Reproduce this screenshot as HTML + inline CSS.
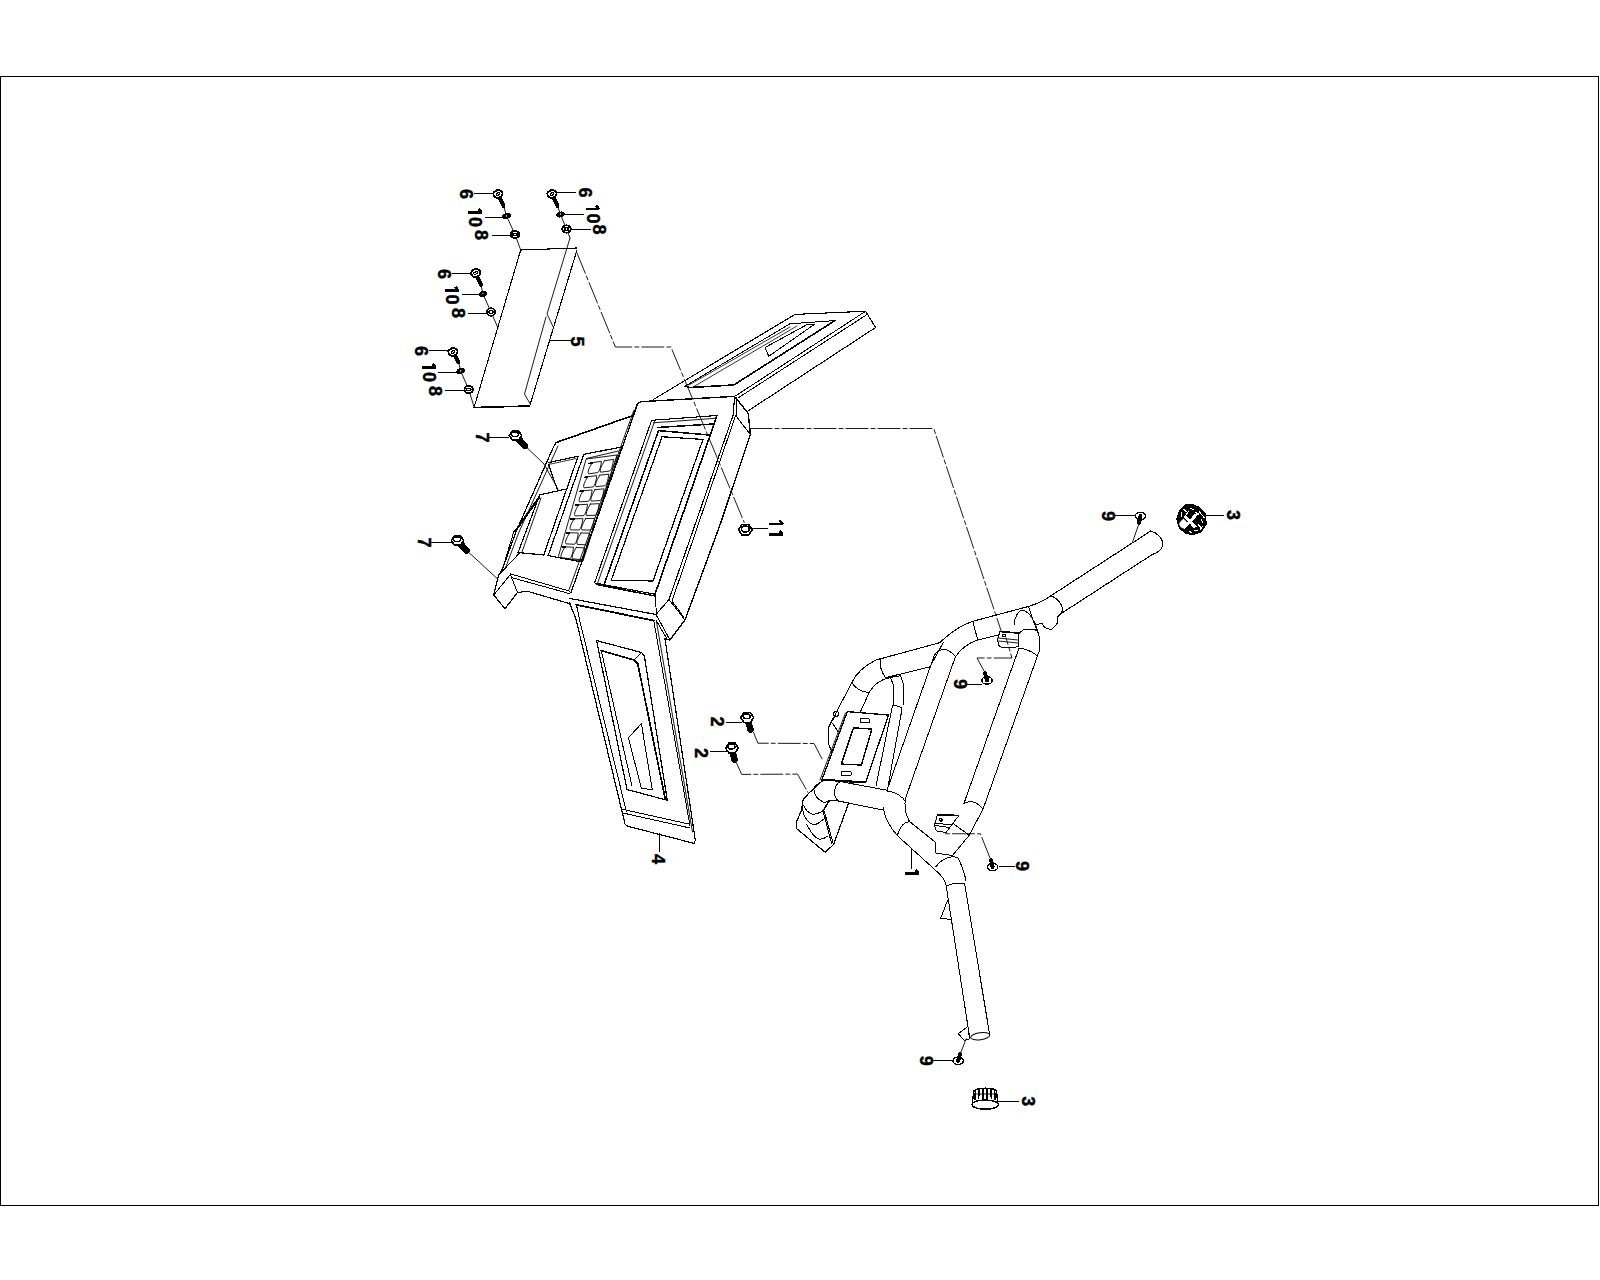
<!DOCTYPE html>
<html><head><meta charset="utf-8"><style>
html,body{margin:0;padding:0;background:#fff;}
svg{display:block;}
text{font-family:"Liberation Sans",sans-serif;font-weight:bold;fill:#000;stroke:#000;stroke-width:0.45px;-webkit-font-smoothing:none;text-anchor:middle;dominant-baseline:central;}
</style></head><body>
<svg width="1600" height="1280" viewBox="0 0 1600 1280">
<g fill="none" stroke="#000" stroke-linecap="round" stroke-linejoin="round" shape-rendering="crispEdges">
<rect x="0.5" y="76.5" width="1598" height="1129" stroke-width="1.2"/>
<path d="M473.5,193 L494.5,193" stroke-width="1.0" />
<path d="M484.7,217 L505,217" stroke-width="1.0" />
<path d="M491.5,235 L511,235" stroke-width="1.0" />
<path d="M503.5,205 L506.5,216 L515,234.5 L520.7,250" stroke-width="0.9" />
<path d="M499.65,197.6 L503.5,206" stroke-width="4.0" />
<ellipse cx="498" cy="194" rx="4.6" ry="3.8" transform="rotate(-15 498 194)" stroke-width="2.0" fill="#fff"/>
<ellipse cx="498" cy="194" rx="2.0" ry="1.1" transform="rotate(-15 498 194)" stroke-width="1.2" fill="none"/>
<ellipse cx="506.5" cy="216" rx="3.8" ry="2.3" transform="rotate(-15 506.5 216)" stroke-width="1.2" fill="#000"/>
<circle cx="506.5" cy="215.7" r="0.9" stroke-width="0.4" fill="#fff"/>
<ellipse cx="515" cy="234.5" rx="4.2" ry="3.7" transform="rotate(0 515 234.5)" stroke-width="1.9" fill="#fff"/>
<ellipse cx="515" cy="234.5" rx="2.2" ry="1.3" transform="rotate(0 515 234.5)" stroke-width="1.4" fill="none"/>
<path transform="translate(475,212.5) rotate(90)" d="M0,-6.8 L0,6.8 M0.3,-6.8 L-3.6,-3.5999999999999996" stroke-width="2.5" stroke-linecap="butt" stroke-linejoin="miter"/>
<path d="M553,192.5 L575.5,192.5" stroke-width="1.0" />
<path d="M562,214.5 L583.7,214.5" stroke-width="1.0" />
<path d="M570,229 L590.5,229" stroke-width="1.0" />
<path d="M557.5,206 L560.5,214.5 L566.5,229 L570,238" stroke-width="0.9" />
<path d="M553.65,197.6 L557.5,206" stroke-width="4.0" />
<ellipse cx="552" cy="194" rx="4.6" ry="3.8" transform="rotate(-15 552 194)" stroke-width="2.0" fill="#fff"/>
<ellipse cx="552" cy="194" rx="2.0" ry="1.1" transform="rotate(-15 552 194)" stroke-width="1.2" fill="none"/>
<ellipse cx="560.5" cy="214.5" rx="3.8" ry="2.3" transform="rotate(-15 560.5 214.5)" stroke-width="1.2" fill="#000"/>
<circle cx="560.5" cy="214.2" r="0.9" stroke-width="0.4" fill="#fff"/>
<ellipse cx="566.5" cy="229" rx="4.2" ry="3.7" transform="rotate(0 566.5 229)" stroke-width="1.9" fill="#fff"/>
<ellipse cx="566.5" cy="229" rx="2.2" ry="1.3" transform="rotate(0 566.5 229)" stroke-width="1.4" fill="none"/>
<path transform="translate(592.5,209) rotate(90)" d="M0,-6.8 L0,6.8 M0.3,-6.8 L-3.6,-3.5999999999999996" stroke-width="2.5" stroke-linecap="butt" stroke-linejoin="miter"/>
<path d="M451.7,273 L472,273" stroke-width="1.0" />
<path d="M461.5,294 L481,294" stroke-width="1.0" />
<path d="M468,313 L487,313" stroke-width="1.0" />
<path d="M481,285 L483,294 L491,312 L498,328" stroke-width="0.9" />
<path d="M477.28999999999996,276.6 L481,285" stroke-width="4.0" />
<ellipse cx="475.7" cy="273" rx="4.6" ry="3.8" transform="rotate(-15 475.7 273)" stroke-width="2.0" fill="#fff"/>
<ellipse cx="475.7" cy="273" rx="2.0" ry="1.1" transform="rotate(-15 475.7 273)" stroke-width="1.2" fill="none"/>
<ellipse cx="483" cy="294" rx="3.8" ry="2.3" transform="rotate(-15 483 294)" stroke-width="1.2" fill="#000"/>
<circle cx="483" cy="293.7" r="0.9" stroke-width="0.4" fill="#fff"/>
<ellipse cx="491" cy="312" rx="4.2" ry="3.7" transform="rotate(0 491 312)" stroke-width="1.9" fill="#fff"/>
<ellipse cx="491" cy="312" rx="2.2" ry="1.3" transform="rotate(0 491 312)" stroke-width="1.4" fill="none"/>
<path transform="translate(451.7,290.3) rotate(90)" d="M0,-6.8 L0,6.8 M0.3,-6.8 L-3.6,-3.5999999999999996" stroke-width="2.5" stroke-linecap="butt" stroke-linejoin="miter"/>
<path d="M429,350 L450,350" stroke-width="1.0" />
<path d="M438,372 L457.7,372" stroke-width="1.0" />
<path d="M445,390 L464.5,390" stroke-width="1.0" />
<path d="M458.5,361.7 L460.7,371 L468.7,389.5 L474,406.7" stroke-width="0.9" />
<path d="M454.65,355.0 L458.5,362" stroke-width="4.0" />
<ellipse cx="453" cy="352" rx="4.6" ry="3.8" transform="rotate(-15 453 352)" stroke-width="2.0" fill="#fff"/>
<ellipse cx="453" cy="352" rx="2.0" ry="1.1" transform="rotate(-15 453 352)" stroke-width="1.2" fill="none"/>
<ellipse cx="460.7" cy="371" rx="3.8" ry="2.3" transform="rotate(-15 460.7 371)" stroke-width="1.2" fill="#000"/>
<circle cx="460.7" cy="370.7" r="0.9" stroke-width="0.4" fill="#fff"/>
<ellipse cx="468.7" cy="389.5" rx="4.2" ry="3.7" transform="rotate(0 468.7 389.5)" stroke-width="1.9" fill="#fff"/>
<ellipse cx="468.7" cy="389.5" rx="2.2" ry="1.3" transform="rotate(0 468.7 389.5)" stroke-width="1.4" fill="none"/>
<path transform="translate(429,367.5) rotate(90)" d="M0,-6.8 L0,6.8 M0.3,-6.8 L-3.6,-3.5999999999999996" stroke-width="2.5" stroke-linecap="butt" stroke-linejoin="miter"/>
<path d="M520.7,250 L576.5,248" stroke-width="1.1" />
<path d="M520.7,250 L474.2,407" stroke-width="1.1" />
<path d="M474.2,407.5 L529.7,406" stroke-width="1.6" />
<path d="M577,250 L529.7,406" stroke-width="1.1" />
<path d="M570,238 L547,314 L553,326.5" stroke-width="0.9" />
<path d="M546,317 L524.5,394 L530.5,404.5" stroke-width="0.9" />
<path d="M550.7,340.7 L571,340.7" stroke-width="1.0" />
<path d="M577,253 L615.4,347 L670.9,347 L744.25,522.5" stroke-width="0.9" stroke-dasharray="22 3 4 3"/>
<path d="M653.75,399.25 L795,314.4 L865.6,311.25 L875.6,327.5 L747.5,411.25" stroke-width="1.1" />
<path d="M865.6,311.25 L735,396.25" stroke-width="1.0" />
<path d="M866.6,314.8 L738.75,397.5" stroke-width="1.0" />
<path d="M685,386.25 L790,323.75 L835,320.6" stroke-width="1.0" />
<path d="M835,320.6 L733.75,385 L690,387.5 L685,386.25" stroke-width="1.6" />
<path d="M689,385 L790,327" stroke-width="0.8" />
<path d="M694,386.5 L797,326" stroke-width="0.8" />
<path d="M765,347.5 L806.25,325 L814.4,324.4 L768.75,356.25 Z" stroke-width="1.0" />
<path d="M633,415.5 L637.3,404.3 L640.5,401.7 L734.5,396.4 L748.3,413.4 L750.4,434.6 L719.6,526 L685,620 L670,640 L665,639" stroke-width="1.4" />
<path d="M734.5,396.4 L733.4,414.4 L669,599.5 L656,614.5" stroke-width="1.1" />
<path d="M735.6,415.5 L672,601" stroke-width="1.0" />
<path d="M736.3,397.5 L736.8,416" stroke-width="1.0" />
<path d="M669,599.5 L685,620" stroke-width="1.0" />
<path d="M672,601 L684,617.5" stroke-width="1.0" />
<path d="M656,614.5 L670,640" stroke-width="1.0" />
<path d="M656,620 L667,639" stroke-width="1.0" />
<path d="M735.6,415.5 L750.4,434.6" stroke-width="1.0" />
<path d="M637.3,404.9 L571,592.5" stroke-width="1.2" />
<path d="M634,410 L569,590" stroke-width="0.9" />
<path d="M556.25,442.5 L633,415.5" stroke-width="1.6" />
<path d="M556.25,442.5 L553.75,446.25 L516.25,531.25 L502.5,568.75 L498.75,575 L493.75,595 L505,608.75 L517.5,592.5 L527.5,591.25 L570,603.75" stroke-width="1.2" />
<path d="M558,446 L519,532 L505,569" stroke-width="0.9" />
<path d="M498.75,575 L520,552.5" stroke-width="1.0" />
<path d="M493.75,595 L510,575" stroke-width="1.0" />
<path d="M510,573.75 L570,591.25" stroke-width="1.0" />
<path d="M511.25,577.5 L570,593.75" stroke-width="1.0" />
<path d="M510,573.75 L517.5,592.5" stroke-width="1.0" />
<path d="M515.2,531.3 L539,497.5" stroke-width="2.2" stroke-dasharray="1.5 1"/>
<path d="M514,531 L502.5,569.2" stroke-width="1.0" />
<path d="M548.75,462.5 L578.1,456.25 L543.75,555 L518.1,552.5 L539.4,495.6" stroke-width="1.2" />
<path d="M551,464 L576,458.5" stroke-width="0.8" />
<path d="M548.75,465 L557.5,490" stroke-width="1.2" />
<path d="M539.4,495 L567.5,488.75" stroke-width="1.2" />
<path d="M541,498 L522,552" stroke-width="0.9" />
<path d="M583.75,454.4 L621.9,446.9 L581.25,561.9 L548.1,555.6 Z" stroke-width="1.2" />
<path d="M586.5,458.5 L618.5,451" stroke-width="0.9" />
<path d="M586.5,459 L617,455 L583,561 L558.5,557.5 Z" stroke-width="0.9" />
<path d="M592.18,462.75 L601.44,461.27 Q600.28,470.59 597.78,472.59 L588.61,473.81 Q586.61,471.81 592.18,462.75 Z" stroke-width="0.9" />
<path d="M604.36,460.8 L613.62,459.32 Q612.34,468.99 609.84,470.99 L600.67,472.21 Q598.67,470.21 604.36,460.8 Z" stroke-width="0.9" />
<path d="M588.95,463.45 L592.12,462.94" stroke-width="1.6" />
<path d="M587.66,476.76 L596.8,475.6 Q595.64,484.93 593.14,486.93 L584.08,487.83 Q582.08,485.83 587.66,476.76 Z" stroke-width="0.9" />
<path d="M599.69,475.24 L608.83,474.09 Q607.55,483.75 605.05,485.75 L596.0,486.65 Q594.0,484.65 599.69,475.24 Z" stroke-width="0.9" />
<path d="M584.47,477.35 L587.59,476.95" stroke-width="1.6" />
<path d="M583.13,490.77 L592.16,489.94 Q591.0,499.27 588.5,501.27 L579.56,501.84 Q577.56,499.84 583.13,490.77 Z" stroke-width="0.9" />
<path d="M595.02,489.68 L604.04,488.85 Q602.76,498.52 600.26,500.52 L591.32,501.09 Q589.32,499.09 595.02,489.68 Z" stroke-width="0.9" />
<path d="M579.98,491.25 L583.07,490.96" stroke-width="1.6" />
<path d="M578.61,504.78 L587.53,504.28 Q586.36,513.6 583.86,515.6 L575.04,515.85 Q573.04,513.85 578.61,504.78 Z" stroke-width="0.9" />
<path d="M590.34,504.12 L599.26,503.62 Q597.97,513.28 595.47,515.28 L586.65,515.53 Q584.65,513.53 590.34,504.12 Z" stroke-width="0.9" />
<path d="M575.5,505.15 L578.55,504.98" stroke-width="1.6" />
<path d="M574.09,518.79 L582.89,518.62 Q581.72,527.94 579.22,529.94 L570.51,529.86 Q568.51,527.86 574.09,518.79 Z" stroke-width="0.9" />
<path d="M585.67,518.56 L594.47,518.38 Q593.19,528.05 590.69,530.05 L581.97,529.97 Q579.97,527.97 585.67,518.56 Z" stroke-width="0.9" />
<path d="M571.01,519.05 L574.02,518.99" stroke-width="1.6" />
<path d="M569.56,532.8 L578.25,532.95 Q577.09,542.28 574.59,544.28 L565.99,543.87 Q563.99,541.87 569.56,532.8 Z" stroke-width="0.9" />
<path d="M580.99,533.0 L589.68,533.15 Q588.4,542.81 585.9,544.81 L577.3,544.41 Q575.3,542.41 580.99,533.0 Z" stroke-width="0.9" />
<path d="M566.53,532.95 L569.5,533.0" stroke-width="1.6" />
<path d="M565.04,546.81 L573.61,547.29 Q572.45,556.62 569.95,558.62 L561.46,557.88 Q559.46,555.88 565.04,546.81 Z" stroke-width="0.9" />
<path d="M576.32,547.44 L584.89,547.91 Q583.61,557.58 581.11,559.58 L572.63,558.85 Q570.63,556.85 576.32,547.44 Z" stroke-width="0.9" />
<path d="M562.04,546.85 L564.97,547.01" stroke-width="1.6" />
<path d="M655,594.25 L594.6,582.9 L651.6,420.3 L717,415.5" stroke-width="1.1" />
<path d="M717,415.5 L655,594.25" stroke-width="1.6" />
<path d="M654.5,421.5 L597.5,583.5" stroke-width="0.9" />
<path d="M653.5,422.8 L715.5,418.3" stroke-width="0.9" />
<path d="M657.5,427.5 L713.5,424" stroke-width="1.5" />
<path d="M709.25,435 L658.5,430.6 L604,585" stroke-width="1.5" />
<path d="M597,584.5 L655,596" stroke-width="1.5" />
<path d="M662,436.75 L703,439.4 L653,581 L611.25,580.25 Z" stroke-width="1.2" />
<path d="M655,594.25 L656.75,617" stroke-width="1.0" />
<path d="M570,598.5 L656,614.5" stroke-width="1.2" />
<path d="M515.4,435.5 L525,446" stroke-width="6.5" />
<path d="M521.6,435.5 L518.5,440.0 L512.3,440.0 L509.2,435.5 L512.3,431.0 L518.5,431.0 Z" stroke-width="1.6" fill="#fff"/>
<ellipse cx="514.9" cy="434.2" rx="3.6" ry="2.4" transform="rotate(0 514.9 434.2)" stroke-width="1.4" fill="none"/>
<path d="M526.9,447.6 L544,464 L558,489.25" stroke-width="0.9" />
<path d="M489.25,437.5 L508.9,437.5" stroke-width="1.0" />
<path d="M457.5,540.6 L466.5,550.5" stroke-width="6.5" />
<path d="M463.7,540.6 L460.6,545.1 L454.4,545.1 L451.3,540.6 L454.4,536.1 L460.6,536.1 Z" stroke-width="1.6" fill="#fff"/>
<ellipse cx="457.0" cy="539.3000000000001" rx="3.6" ry="2.4" transform="rotate(0 457.0 539.3000000000001)" stroke-width="1.4" fill="none"/>
<path d="M467.5,551.25 L498.1,579.4" stroke-width="0.9" />
<path d="M431.9,542.5 L451.25,542.5" stroke-width="1.0" />
<path d="M752.1,529.75 L748.7,534.95 L741.9,534.95 L738.5,529.75 L741.9,524.55 L748.7,524.55 Z" stroke-width="1.8" />
<ellipse cx="745.3" cy="529.0" rx="3.8" ry="3.2" transform="rotate(0 745.3 529.0)" stroke-width="1.6" fill="none"/>
<path d="M751.9,528.4 L767.8,528.4" stroke-width="1.0" />
<path transform="translate(776,524) rotate(90)" d="M0,-6.8 L0,6.8 M0.3,-6.8 L-3.6,-3.5999999999999996" stroke-width="2.5" stroke-linecap="butt" stroke-linejoin="miter"/>
<path transform="translate(776,534.5) rotate(90)" d="M0,-6.8 L0,6.8 M0.3,-6.8 L-3.6,-3.5999999999999996" stroke-width="2.5" stroke-linecap="butt" stroke-linejoin="miter"/>
<path d="M750,428.5 L933.75,428.5 L1001.5,632" stroke-width="0.9" stroke-dasharray="22 3 4 3"/>
<path d="M569.4,602.8 L575.9,618.75 L625,824 L627.4,826.2 L694.2,843.4 L695.3,840.2 L665,639" stroke-width="1.2" />
<path d="M576.5,605 L579.7,620.6 L626.5,812" stroke-width="1.0" />
<path d="M575.9,604.7 L653.75,620.6" stroke-width="1.8" />
<path d="M653.75,620.6 L690,826" stroke-width="1.0" />
<path d="M656.5,622 L692.5,832" stroke-width="0.9" />
<path d="M620.9,808.9 L688.8,824" stroke-width="1.0" />
<path d="M623,813 L690,828" stroke-width="1.0" />
<path d="M641.5,652.5 L596.6,640.6 L627,789.5 L667.3,800.3 L644.4,656.25 L641.5,652.5" stroke-width="1.2" />
<path d="M601.25,650.6 L632,786" stroke-width="1.0" />
<path d="M601.25,650.6 L634,660 L637.8,663.75 L665,798" stroke-width="1.7" />
<path d="M634,660 L641.5,652.5" stroke-width="1.0" />
<path d="M628.4,737.75 L641.4,723.7 L652.2,789.5 L641.4,788.4 Z" stroke-width="1.0" />
<path d="M659.7,833.7 L659.7,852" stroke-width="1.0" />
<path d="M747.2,717.5 L750.5,729.5" stroke-width="6.5" />
<path d="M753.6,717.5 L750.4,722.35 L744.0,722.35 L740.8,717.5 L744.0,712.65 L750.4,712.65 Z" stroke-width="1.6" fill="#fff"/>
<ellipse cx="746.7" cy="716.2" rx="3.6" ry="2.4" transform="rotate(0 746.7 716.2)" stroke-width="1.4" fill="none"/>
<path d="M753.5,732.4 L757.9,743.2 L814.1,743.5 L822,758.9" stroke-width="0.9" stroke-dasharray="22 3 4 3"/>
<path d="M725.5,722 L741.7,722" stroke-width="1.0" />
<path d="M731.9,748 L734.5,759.5" stroke-width="6.5" />
<path d="M738.3,748.0 L735.1,752.85 L728.7,752.85 L725.5,748.0 L728.7,743.15 L735.1,743.15 Z" stroke-width="1.6" fill="#fff"/>
<ellipse cx="731.4" cy="746.7" rx="3.6" ry="2.4" transform="rotate(0 731.4 746.7)" stroke-width="1.4" fill="none"/>
<path d="M736.3,762.6 L741.7,774.4 L797.5,774.1 L808,792.5" stroke-width="0.9" stroke-dasharray="22 3 4 3"/>
<path d="M710.4,751.8 L727.7,751.8" stroke-width="1.0" />
<path d="M851.75,682.75 C856,673 866,665 876,660 L939.6,642.75 C950,633 960,625 972.9,621.3 L1030,606 Q1042,602 1049,597 L1150.75,531" stroke-width="1.1" />
<path d="M1062,613 L1151.5,555" stroke-width="1.1" />
<path d="M1150.75,531 C1158,533 1163,539 1162.75,545 C1162,550 1157,553 1151.5,555" stroke-width="1.1" />
<path d="M1051.6,596 C1057,598 1062,604 1062.5,609 C1062.5,612 1060,615 1057.8,616.5 C1058.5,620 1058,625 1051.6,629.2 C1048,629.5 1044,628 1042.2,623.4" stroke-width="1.0" />
<path d="M1028.1,605.8 L1036.7,630" stroke-width="1.0" />
<path d="M972.9,621.3 L977.7,640.1" stroke-width="1.0" />
<path d="M955.4,656.75 C960,650 968,643 977.7,640.1 L1000,634.4" stroke-width="1.0" />
<path d="M1035.9,624.5 L1042.2,623.4" stroke-width="1.0" />
<path d="M1014,625.3 C1014.5,617 1018,611 1021.9,610.5 C1026,610 1030,613 1035.2,623.75 C1037,628 1039,634 1039.8,640 L1039.8,649.5 L1037.5,655.8" stroke-width="1.0" />
<path d="M1019.5,633.1 C1022,630.5 1024,629.2 1025.8,629.2 L1033.6,629.2 C1036,630 1038,632 1038.3,633.1" stroke-width="1.0" />
<path d="M1037.5,655.8 L983,809.25" stroke-width="1.0" />
<path d="M1018.75,648.75 L963.75,804" stroke-width="1.0" />
<path d="M1018.75,648.75 C1021,648 1028,648.5 1037.5,655.8" stroke-width="1.0" />
<path d="M963.75,804 C968,800 977,801 983,809.25" stroke-width="1.0" />
<path d="M983,809.25 L969,835.5 L952.4,855.6" stroke-width="1.0" />
<path d="M955.4,656.75 L906,797" stroke-width="1.0" />
<path d="M906,797 C904,805 904.25,812.75 909.5,821.5" stroke-width="1.0" />
<path d="M934.4,655 L886.75,790.9" stroke-width="1.0" />
<path d="M934.4,655 C940,648 948,647 955.4,656.75" stroke-width="1.0" />
<path d="M930,666.8 L943.1,642.75" stroke-width="1.0" />
<path d="M885.4,677.75 L930,666.8" stroke-width="1.0" />
<path d="M880.1,659.4 C879.5,665 881,671 885.4,677.75" stroke-width="1.0" />
<path d="M851.75,682.75 L831.6,721.25 L829,726.5 L828.1,743.1 L831.6,751" stroke-width="1.0" />
<path d="M851.75,682.75 C855,688 862,692.5 869.25,692.4" stroke-width="1.0" />
<path d="M869.25,692.4 L860.5,711.6" stroke-width="1.0" />
<path d="M869.25,692.4 C874,684 882,679 890.25,677.5" stroke-width="1.0" />
<path d="M890.25,677.5 L893.75,685.4 L893.3,705.5" stroke-width="1.0" />
<path d="M900.75,675.75 L903.4,684.5 L903.4,704.6" stroke-width="1.0" />
<path d="M890.25,677.5 L900.75,675.75" stroke-width="1.0" />
<path d="M892.4,706 C895,705 898,705.5 901.5,708" stroke-width="1.0" />
<path d="M892.4,706 L876,786" stroke-width="1.0" />
<path d="M902,709 L887.6,789" stroke-width="1.0" />
<path d="M847.4,711.6 L888.5,715.1 L865.75,782 L822,779.4 Z" stroke-width="1.3" />
<path d="M845.5,713 L820,780" stroke-width="0.9" />
<path d="M853.5,727.8 L871.9,729.1 L861.4,765 L841.25,764.1 Z" stroke-width="1.4" />
<path d="M860,718.6 L869,719 L869,722.6 L860,722.6 Z" stroke-width="1.0" />
<path d="M841,771.5 L851,772 L851,775 L841,775 Z" stroke-width="1.0" />
<path d="M836,714 L831.6,722.1 L838.2,731.75" stroke-width="1.0" />
<circle cx="836" cy="714" r="2.5" stroke-width="1.0" fill="none"/>
<path d="M821.6,779.8 L863.8,782.7" stroke-width="1.6" />
<path d="M840.6,781.6 C837,783 835,786 834.3,792.5 C834.5,796 836,799 838.5,801" stroke-width="1.0" />
<path d="M840.6,781.6 L887.75,790.4" stroke-width="1.0" />
<path d="M838.5,801 L883.1,810" stroke-width="1.0" />
<path d="M823,780.5 C818,784 813,789 804.1,798.1 C802.5,801 802,806 802,809.4 L796.3,822 L796.3,828.4 L825.2,852.3 L833.6,844.5 L848.4,803.75" stroke-width="1.2" />
<path d="M822.3,781.25 C818,783.5 815,786 813.9,788.3 C813.5,793 816,799 823.75,802.3 C826,802.5 828,801 829.4,800.6 L837.8,800.2" stroke-width="1.0" />
<path d="M803.4,805.2 C805,809 809,814 813,814.3 C817,814.3 821,812 823,810.8" stroke-width="1.0" />
<path d="M802.7,810 C804,818 809,824 814.6,824.5 C819,824 822,820 824.5,818.5" stroke-width="1.0" />
<path d="M806.9,824.8 C811,833 815,838 819.5,839.3 C824,839 826,837.5 828,836.1" stroke-width="1.0" />
<path d="M823,810.8 L831.5,843.1" stroke-width="1.0" />
<path d="M824.5,812 L833,843" stroke-width="1.0" />
<path d="M829.4,800.6 L823,810.8" stroke-width="1.4" />
<path d="M886.75,790.9 C896,792 903,797 906,802.25" stroke-width="1.0" />
<path d="M883.25,807.5 C884,816 889,826 897.25,835.5 L935.75,870.5" stroke-width="1.0" />
<path d="M909.5,821.5 L935.75,842.5" stroke-width="1.0" />
<path d="M897.25,835.5 C900,826 904,822 909.5,821.5" stroke-width="1.0" />
<path d="M937.5,814.7 L958.1,815.6" stroke-width="1.8" />
<path d="M937.5,814.7 L935,823 C934.5,828 935,830 937,831 L945.9,832.5 L958.1,816.6" stroke-width="1.0" />
<path d="M935,823 L951,825" stroke-width="1.0" />
<path d="M935,825.5 L950,827.5" stroke-width="1.0" />
<circle cx="940.8" cy="819.9" r="1.3" stroke-width="1.4" fill="none"/>
<path d="M952.5,823.1 L969.4,835.3" stroke-width="1.0" />
<path d="M935.75,842.5 L935.75,853 L952.4,855.6" stroke-width="1.0" />
<path d="M935.75,867 C942,858 952,855 958,858 C962,866 965.5,875 965.5,881" stroke-width="1.0" />
<path d="M935.75,870.5 C941,875 946,880 946.25,886.25" stroke-width="1.0" />
<path d="M946.25,886.25 C950,884 958,883 964.6,883.6" stroke-width="1.0" />
<path d="M946.25,886.25 L969.6,1037.1" stroke-width="1.0" />
<path d="M964.6,883.6 L989.8,1035.3" stroke-width="1.0" />
<ellipse cx="980.2" cy="1036.2" rx="9.7" ry="3.5" transform="rotate(-8 980.2 1036.2)" stroke-width="1.0" fill="none"/>
<path d="M947.7,900 L940.6,918.5 L950.3,919.3" stroke-width="1.0" />
<path d="M958.2,1033.6 L967.9,1026.5 L969.6,1038.8 L964.4,1040.6 Z" stroke-width="1.0" />
<path d="M911.6,849.7 L911.6,868.4" stroke-width="1.0" />
<path transform="translate(912,873.5) rotate(90)" d="M0,-6.8 L0,6.8 M0.3,-6.8 L-3.6,-3.5999999999999996" stroke-width="2.5" stroke-linecap="butt" stroke-linejoin="miter"/>
<path d="M1000,631.5 L1018,633" stroke-width="1.6" />
<path d="M1000,631.5 L998,638 C997.5,643 998,646 1001,647 L1013,648 L1019,646 L1018,633" stroke-width="1.0" />
<path d="M998,638 L1018,640" stroke-width="0.9" />
<path d="M998,641 L1018,643" stroke-width="0.9" />
<circle cx="1004" cy="635.5" r="1.3" stroke-width="1.4" fill="none"/>
<ellipse cx="1140.5" cy="516" rx="5.2" ry="3.7" transform="rotate(0 1140.5 516)" stroke-width="1.5" fill="#fff"/>
<path d="M1140.5,516 L1139,523" stroke-width="4.0" />
<path d="M1138.75,524.25 L1132.75,541.5" stroke-width="0.9" />
<path d="M1115,515 L1135,515" stroke-width="1.0" />
<ellipse cx="987" cy="680.5" rx="5.2" ry="3.7" transform="rotate(0 987 680.5)" stroke-width="1.5" fill="#fff"/>
<path d="M987,680.5 L985,673" stroke-width="4.0" />
<path d="M984,671 L977,658 L1012,658 L1006,638" stroke-width="0.9" stroke-dasharray="22 3 4 3"/>
<path d="M967,684 L982,684" stroke-width="1.0" />
<ellipse cx="992.6" cy="867" rx="5.2" ry="3.7" transform="rotate(0 992.6 867)" stroke-width="1.5" fill="#fff"/>
<path d="M992.6,867 L991,860" stroke-width="4.0" />
<path d="M990,858 L980.4,833.75 L944.5,833.75" stroke-width="0.9" stroke-dasharray="22 3 4 3"/>
<path d="M998.75,866 L1014.5,866" stroke-width="1.0" />
<ellipse cx="958.2" cy="1060.8" rx="5.2" ry="3.7" transform="rotate(0 958.2 1060.8)" stroke-width="1.5" fill="#fff"/>
<path d="M958.2,1060.8 L960,1054" stroke-width="4.0" />
<path d="M960,1054.7 L966.1,1038.8" stroke-width="0.9" />
<path d="M932.7,1060.8 L953.8,1060.8" stroke-width="1.0" />
<path d="M1186,505 L1193,505 L1198,507 L1205,514 L1206,524 L1201,531.5 L1193.5,534 L1186.5,533.5 L1179.5,528 L1177,519 L1179.5,511 Z" stroke-width="1.6" fill="#000"/>
<path d="M1184.5,516 L1195.5,527.5" stroke-width="3.0" stroke="#fff" stroke-linecap="butt"/>
<path d="M1198,513 L1183.5,528.5" stroke-width="2.6" stroke="#fff" stroke-linecap="butt"/>
<path d="M1179.5,523 L1183.5,519 L1188,524 L1184.5,528.5 L1181,527 Z" stroke-width="0.8" fill="#fff" stroke="#fff"/>
<path d="M1199.5,512 L1204,517.5" stroke-width="1.0" stroke="#fff"/>
<path d="M1183,509 L1187,512 M1190,508 L1194,510 M1186,515 L1189,511 M1201,519 L1203,523 M1198,524 L1201,528 M1194,530 L1198,531 M1189,531 L1192,533 M1182,512 L1181,517 M1195,512 L1199,515 M1192,517 L1195,514 M1203,526 L1200,530" stroke-width="1.0" stroke="#fff" stroke-linecap="butt"/>
<path d="M1205,515 L1224,515" stroke-width="1.0" />
<ellipse cx="985.2" cy="1104.6" rx="13.2" ry="4.6" transform="rotate(0 985.2 1104.6)" stroke-width="1.4" fill="#fff"/>
<path d="M972.5,1101 L974,1091 C977,1087.5 993,1087 996.5,1091 L997.5,1101" stroke-width="1.4" />
<path d="M975.5,1092 L975,1099 M979,1089.5 L978.5,1098.5 M983,1089 L983,1098 M987,1089 L987,1098 M991,1089.5 L991.5,1098.5 M994.5,1091 L995,1099" stroke-width="1.8" />
<path d="M975,1094 L995,1094" stroke-width="0.9" />
<path d="M998.6,1101.2 L1018.8,1101.2" stroke-width="1.0" />
</g>
<g>
<text x="0" y="0" transform="translate(466,194) rotate(90)" font-size="18">6</text>
<text x="0" y="0" transform="translate(475,222) rotate(90)" font-size="18">0</text>
<text x="0" y="0" transform="translate(481,235) rotate(90)" font-size="18">8</text>
<text x="0" y="0" transform="translate(584.5,192.5) rotate(90)" font-size="18">6</text>
<text x="0" y="0" transform="translate(592.5,218.5) rotate(90)" font-size="18">0</text>
<text x="0" y="0" transform="translate(599.3,229.5) rotate(90)" font-size="18">8</text>
<text x="0" y="0" transform="translate(443.5,274) rotate(90)" font-size="18">6</text>
<text x="0" y="0" transform="translate(451.7,299.6) rotate(90)" font-size="18">0</text>
<text x="0" y="0" transform="translate(457.7,313) rotate(90)" font-size="18">8</text>
<text x="0" y="0" transform="translate(421,351) rotate(90)" font-size="18">6</text>
<text x="0" y="0" transform="translate(429,377) rotate(90)" font-size="18">0</text>
<text x="0" y="0" transform="translate(435,391) rotate(90)" font-size="18">8</text>
<text x="0" y="0" transform="translate(577,341.5) rotate(90)" font-size="18">5</text>
<text x="0" y="0" transform="translate(481.5,437.4) rotate(90)" font-size="18">7</text>
<text x="0" y="0" transform="translate(424.4,542.5) rotate(90)" font-size="18">7</text>
<text x="0" y="0" transform="translate(658,859) rotate(90)" font-size="18">4</text>
<text x="0" y="0" transform="translate(716.9,721.6) rotate(90)" font-size="18">2</text>
<text x="0" y="0" transform="translate(700.7,752.9) rotate(90)" font-size="18">2</text>
<text x="0" y="0" transform="translate(1108,516) rotate(90)" font-size="18">9</text>
<text x="0" y="0" transform="translate(960,684) rotate(90)" font-size="18">9</text>
<text x="0" y="0" transform="translate(1021.5,866) rotate(90)" font-size="18">9</text>
<text x="0" y="0" transform="translate(925.7,1060.8) rotate(90)" font-size="18">9</text>
<text x="0" y="0" transform="translate(1233,515) rotate(90)" font-size="18">3</text>
<text x="0" y="0" transform="translate(1027.6,1101.2) rotate(90)" font-size="18">3</text>
</g>
</svg>
</body></html>
